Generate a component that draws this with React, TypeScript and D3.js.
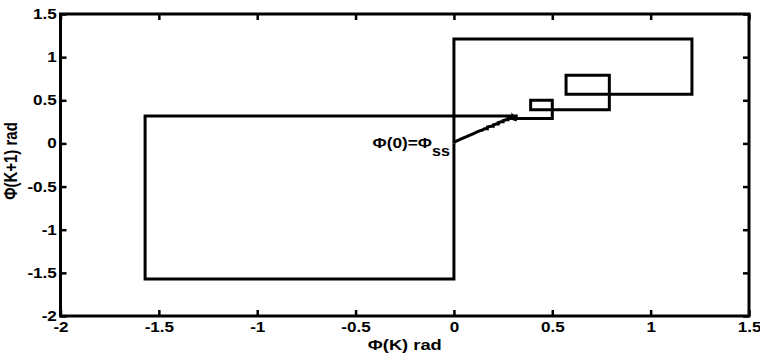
import React, { useEffect, useRef } from 'react';
import * as d3 from 'd3';

// phase sequences Φ(k) for each run, plotted as (Φ(k), Φ(k+1))
const phiUpper = [0, 0, 1.21, 1.21, 0.57, 0.57, 0.79, 0.79, 0.39, 0.39, 0.5, 0.5, 0.29, 0.29, 0.31, 0.31, 0.3, 0.3];
const phiLower = [0, 0, -1.57, -1.57, 0.317, 0.317, 0.29, 0.29, 0.31, 0.31, 0.3, 0.3];
const phiSlow = [
    0, 0.012, 0.026, 0.04, 0.055, 0.07, 0.085, 0.1, 0.115, 0.13, 0.145, 0.155,
    0.17, 0.17, 0.19, 0.2, 0.2, 0.215, 0.225, 0.225, 0.24, 0.25, 0.25, 0.265,
    0.275, 0.275, 0.29, 0.3, 0.3, 0.31, 0.28, 0.32, 0.27, 0.31, 0.29, 0.32, 0.28, 0.3,
];

const xTicks = [-2, -1.5, -1, -0.5, 0, 0.5, 1, 1.5];
const yTicks = [-2, -1.5, -1, -0.5, 0, 0.5, 1, 1.5];
const xTickLabels = ['-2', '-1.5', '-1', '-0.5', '0', '0.5', '1', '1.5'];
const yTickLabels = ['-2', '-1.5', '-1', '-0.5', '0', '0.5', '1', '1.5'];

const W = 760;
const H = 356;
const FONT = '"Liberation Sans", Arial, sans-serif';
const STRETCH = 1.22;

const App = () => {
    const ref = useRef<SVGSVGElement>(null);

    useEffect(() => {
        const svg = d3.select(ref.current);
        svg.selectAll('*').remove();

        const left = 60.5, right = 749, top = 14, bottom = 316;
        const x = d3.scaleLinear().domain([-2, 1.5]).range([left, right]);
        const y = d3.scaleLinear().domain([-2, 1.5]).range([bottom, top]);

        // runs
        const line = d3.line<number[]>().x(d => x(d[0])).y(d => y(d[1]));
        [phiUpper, phiLower, phiSlow].forEach(phi => {
            const pts = phi.slice(0, -1).map((v, i) => [v, phi[i + 1]]);
            svg.append('path')
                .attr('d', line(pts))
                .attr('fill', 'none')
                .attr('stroke', '#000')
                .attr('stroke-width', 3)
                .attr('stroke-linejoin', 'miter');
        });

        // axes (ticks inward, MATLAB box)
        const styleAxis = (g, labels) => {
            g.select('.domain').remove();
            g.selectAll('line').attr('stroke', '#000').attr('stroke-width', 2.5);
            g.selectAll('text')
                .attr('fill', '#000')
                .attr('font-family', FONT)
                .attr('font-weight', 'bold')
                .attr('font-size', 14)
                .attr('transform', `scale(${STRETCH},1)`);
            if (!labels) g.selectAll('text').remove();
        };
        svg.append('g')
            .attr('transform', `translate(0,${bottom})`)
            .call(d3.axisBottom(x).tickValues(xTicks).tickFormat((d, i) => xTickLabels[i]).tickSizeInner(-6).tickSizeOuter(0).tickPadding(6))
            .call(g => styleAxis(g, true));
        svg.append('g')
            .attr('transform', `translate(0,${top})`)
            .call(d3.axisTop(x).tickValues(xTicks).tickSizeInner(-6).tickSizeOuter(0))
            .call(g => styleAxis(g, false));
        svg.append('g')
            .attr('transform', `translate(${left},0)`)
            .call(d3.axisLeft(y).tickValues(yTicks).tickFormat((d, i) => yTickLabels[i]).tickSizeInner(-6).tickSizeOuter(0).tickPadding(3))
            .call(g => styleAxis(g, true));
        svg.append('g')
            .attr('transform', `translate(${right},0)`)
            .call(d3.axisRight(y).tickValues(yTicks).tickSizeInner(-6).tickSizeOuter(0))
            .call(g => styleAxis(g, false));

        svg.append('rect')
            .attr('x', left).attr('y', top)
            .attr('width', right - left).attr('height', bottom - top)
            .attr('fill', 'none').attr('stroke', '#000').attr('stroke-width', 3);

        // axis titles
        svg.append('g')
            .attr('transform', `translate(${(left + right) / 2},350) scale(${STRETCH},1)`)
            .append('text')
            .attr('text-anchor', 'middle')
            .attr('font-family', FONT).attr('font-weight', 'bold').attr('font-size', 15)
            .text('Φ(K) rad');
        svg.append('g')
            .attr('transform', `translate(17,${(top + bottom) / 2 - 4}) scale(${STRETCH},1) rotate(-90)`)
            .append('text')
            .attr('text-anchor', 'middle')
            .attr('font-family', FONT).attr('font-weight', 'bold').attr('font-size', 15)
            .text('Φ(K+1) rad');

        // annotation at the steady state
        const note = svg.append('g')
            .attr('transform', `translate(${x(0) - 4},148) scale(1.15,1)`)
            .append('text')
            .attr('text-anchor', 'end')
            .attr('font-family', FONT).attr('font-weight', 'bold').attr('font-size', 15);
        note.append('tspan').text('Φ(0)=Φ');
        note.append('tspan').attr('dy', 8).attr('font-size', 14).text('ss');
    }, []);

    return (
        <svg ref={ref} width={W} height={H}
            style={{ position: 'absolute', left: 0, top: 0, background: '#fff' }} />
    );
};

export default App;
